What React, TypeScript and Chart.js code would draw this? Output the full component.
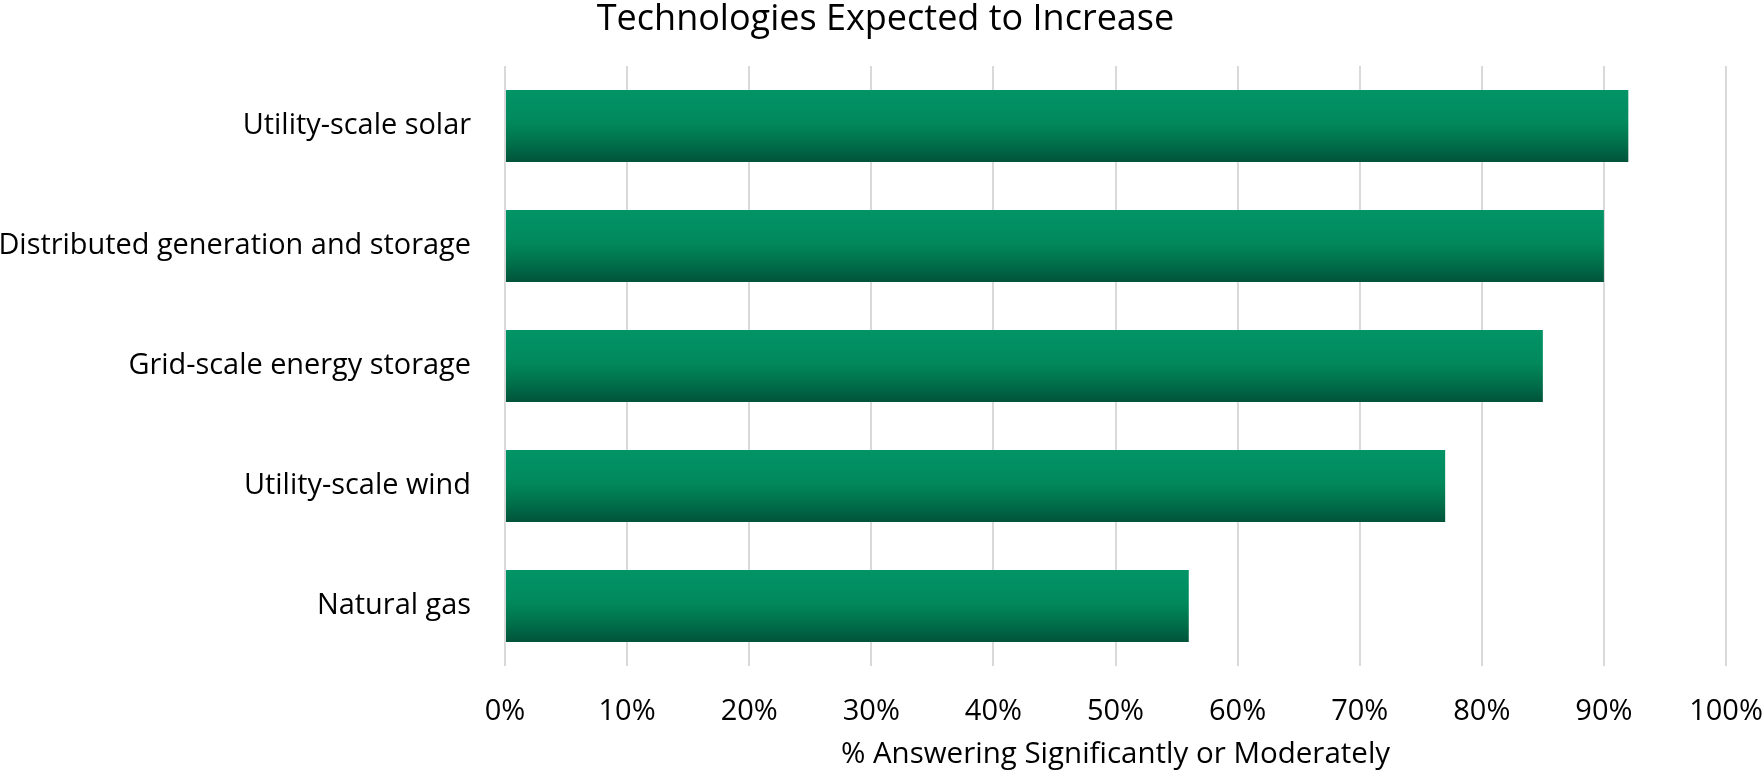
import { useEffect, useRef } from 'react';
import { Chart, registerables } from 'chart.js';

Chart.register(...registerables);

const categories = [
  'Utility-scale solar',
  'Distributed generation and storage',
  'Grid-scale energy storage',
  'Utility-scale wind',
  'Natural gas',
];
const values = [92, 90, 85, 77, 56];
const xMin = 0;
const xMax = 100;
const xStep = 10;
const chartTitle = 'Technologies Expected to Increase';
const xAxisTitle = '% Answering Significantly or Moderately';

const FONT = "'Open Sans', 'Noto Sans', sans-serif";
const BAR_FRACTION = 0.6;

// Centers the chart title on the full canvas width (as in the reference)
const titleCenterPlugin = {
  id: 'titleCenter',
  afterLayout(chart: any) {
    const tb = chart.titleBlock;
    if (tb) {
      const w = chart.width;
      const half = Math.min(tb.right - tb.left, w) / 2;
      const cx = w / 2 + 4;
      tb.left = cx - half;
      tb.right = cx + half;
    }
  },
};

export default function App() {
  const ref = useRef<HTMLCanvasElement | null>(null);

  useEffect(() => {
    document.body.style.margin = '0';
    document.body.style.overflow = 'hidden';
    if (!ref.current) return;

    const chart = new Chart(ref.current, {
      type: 'bar',
      data: {
        labels: categories,
        datasets: [
          {
            data: values,
            barPercentage: BAR_FRACTION,
            categoryPercentage: 1,
            borderWidth: 0,
            backgroundColor: (ctx: any) => {
              const c = ctx.chart;
              const area = c.chartArea;
              const yScale = c.scales?.y;
              if (!area || !yScale || ctx.dataIndex === undefined) return '#018a5c';
              const center = yScale.getPixelForValue(ctx.dataIndex);
              const half = (area.height / categories.length) * BAR_FRACTION / 2;
              const g = c.ctx.createLinearGradient(0, center - half, 0, center + half);
              g.addColorStop(0, '#029466');
              g.addColorStop(0.45, '#01895c');
              g.addColorStop(0.75, '#016f4a');
              g.addColorStop(1, '#00533a');
              return g;
            },
          },
        ],
      },
      plugins: [titleCenterPlugin],
      options: {
        indexAxis: 'y',
        animation: false,
        responsive: true,
        maintainAspectRatio: false,
        layout: { padding: { top: 0, right: 37, bottom: 0, left: 0 } },
        plugins: {
          legend: { display: false },
          tooltip: { enabled: false },
          title: {
            display: true,
            text: chartTitle,
            color: '#000',
            font: { family: FONT, size: 36, weight: 'normal', lineHeight: 1.1 },
            padding: { top: 0, bottom: 26.4 },
          },
        },
        scales: {
          x: {
            type: 'linear',
            min: xMin,
            max: xMax,
            ticks: {
              stepSize: xStep,
              callback: (v: any) => `${v}%`,
              color: '#000',
              font: { family: FONT, size: 29 },
              padding: 28,
              maxRotation: 0,
            },
            grid: { color: '#d9d9d9', lineWidth: 2, drawTicks: false },
            border: { display: false },
            title: {
              display: true,
              text: xAxisTitle,
              color: '#000',
              font: { family: FONT, size: 29.5, lineHeight: 1.2 },
              padding: { top: 0, bottom: 0 },
            },
            afterFit: (scale: any) => {
              scale.height = 106;
              scale.paddingLeft = 0;
              scale.paddingRight = 0;
            },
          },
          y: {
            type: 'category',
            grid: { display: false, drawTicks: false },
            border: { display: false },
            ticks: {
              color: '#000',
              font: { family: FONT, size: 28.9 },
              padding: 34,
            },
            afterFit: (scale: any) => {
              scale.width = 505;
            },
          },
        },
      },
    } as any);

    return () => chart.destroy();
  }, []);

  return (
    <div style={{ width: '1763px', height: '772px', position: 'relative' }}>
      <canvas ref={ref} />
    </div>
  );
}
